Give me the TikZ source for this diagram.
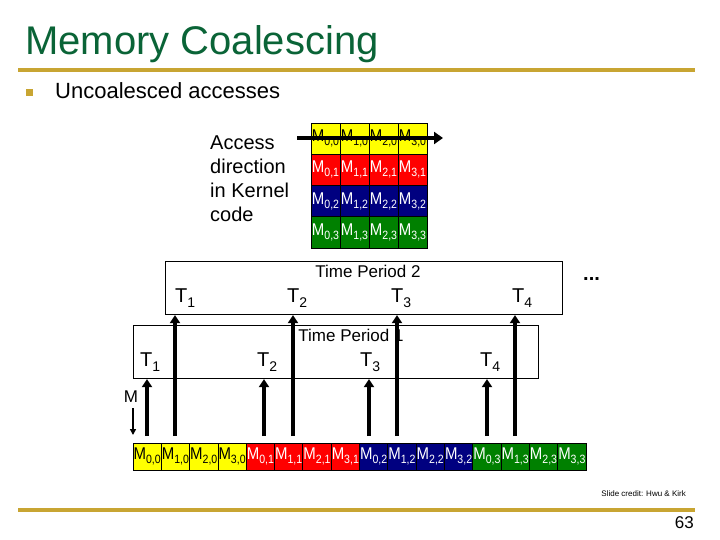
\documentclass[tikz,border=0pt]{standalone}
\usepackage{fontspec}
\setmainfont{Liberation Sans}
\usetikzlibrary{arrows.meta}
\definecolor{titlegreen}{RGB}{10,100,55}
\definecolor{gold}{RGB}{200,165,50}
\definecolor{cyel}{RGB}{255,255,0}
\definecolor{cred}{RGB}{255,0,0}
\definecolor{cblue}{RGB}{0,0,128}
\definecolor{cgreen}{RGB}{0,128,0}
\newcommand{\Msub}[2]{\scalebox{0.88}[1]{M\raisebox{-4pt}{\fontsize{12}{12}\selectfont #1,#2}}}
\newcommand{\Tsub}[1]{T\raisebox{-5pt}{\fontsize{14}{14}\selectfont #1}}
\tikzset{
  cell/.style={draw=black, line width=0.8pt, inner sep=0pt, font=\fontsize{17}{17}\selectfont},
  tbox/.style={draw=black, line width=1.1pt, inner sep=0pt, anchor=north west},
  tlab/.style={anchor=base west, inner sep=0pt, font=\fontsize{20}{20}\selectfont},
  plab/.style={anchor=base, inner sep=0pt, font=\fontsize{17}{17}\selectfont},
  thickarr/.style={line width=4pt, -{Triangle[width=10pt,length=8pt]}},
  goldline/.style={gold, line width=3.5pt},
}
\begin{document}
\begin{tikzpicture}[x=1pt,y=-1pt]
\useasboundingbox[fill=white] (0,0) rectangle (720,540);
% header
\node[anchor=base west, inner sep=0pt, text=titlegreen, font=\fontsize{40}{40}\selectfont] (title) at (25,55) {Memory Coalescing};
\draw[goldline] (18,70) -- (695,70);
\fill[gold] (26,89) rectangle (33,96);
\node[anchor=base west, inner sep=0pt, font=\fontsize{22}{22}\selectfont] (bul) at (55,99) {Uncoalesced accesses};
% access direction text
\node[tlab] (ad1) at (210,150) {Access};
\node[tlab] (ad2) at (210,174) {direction};
\node[tlab] (ad3) at (210,198) {in Kernel};
\node[tlab] (ad4) at (210,222) {code};
% top grid
\foreach \r/\fc/\tc in {0/cyel/black,1/cred/white,2/cblue/white,3/cgreen/white}{
  \foreach \c in {0,...,3}{
    \node[cell, fill=\fc, text=\tc, minimum width=29pt, minimum height=31.25pt]
      (g\c\r) at ({311+29*\c+14.5},{123+31.25*\r+15.6}) {\Msub{\c}{\r}};
  }
}
\coordinate (adS) at (297,138);
\coordinate (adE) at (443,138);
\draw[line width=4pt, -{Triangle[width=12pt,length=9pt]}] (adS) -- (adE);
% time period boxes
\node[tbox, minimum width=397pt, minimum height=53pt] (tp2) at (165,261) {};
\node[tbox, fill=white, minimum width=405pt, minimum height=53pt] (tp1) at (133,325) {};
\node[plab] (tp2l) at (368,277) {Time Period 2};
\node[plab] (tp1l) at (351,341) {Time Period 1};
\node[tlab] (t21) at (175,302) {\Tsub{1}};
\node[tlab] (t22) at (287,302) {\Tsub{2}};
\node[tlab] (t23) at (391,302) {\Tsub{3}};
\node[tlab] (t24) at (512,302) {\Tsub{4}};
\node[tlab] (t11) at (140,366) {\Tsub{1}};
\node[tlab] (t12) at (257,366) {\Tsub{2}};
\node[tlab] (t13) at (360,366) {\Tsub{3}};
\node[tlab] (t14) at (480,366) {\Tsub{4}};
\node[tlab, font=\fontsize{20}{20}\selectfont\bfseries] (dots) at (583,280) {...};
% memory row
\foreach \r/\fc/\tc in {0/cyel/black,1/cred/white,2/cblue/white,3/cgreen/white}{
  \foreach \c in {0,...,3}{
    \node[cell, fill=\fc, text=\tc, minimum width=28.31pt, minimum height=27pt]
      (b\c\r) at ({133+28.3125*(4*\r+\c)+14.16},456.5) {\Msub{\c}{\r}};
  }
}
% M label
\node[inner sep=0pt, font=\fontsize{17}{17}\selectfont] (mlab) at (131,397) {M};
\coordinate (mE) at (133,435);
\draw[line width=1.5pt, -{Triangle[width=6pt,length=6pt]}] (mlab.south) ++(2,5) coordinate (mS) -- (mE);
% access arrows
\foreach \n/\x in {a1/147,a2/264,a3/369,a4/487}{
  \coordinate (\n) at (\x,436);
  \draw[thickarr] (\n) -- (\n |- tp1.south);
}
\foreach \n/\x in {c1/175,c2/293,c3/397,c4/515}{
  \coordinate (\n) at (\x,436);
  \draw[thickarr] (\n) -- (\n |- tp2.south);
}
% footer
\node[anchor=base east, inner sep=0pt, font=\fontsize{8}{8}\selectfont] (credit) at (686,496) {Slide credit: Hwu \& Kirk};
\draw[goldline] (18,510) -- (695,510);
\node[anchor=base east, inner sep=0pt, font=\fontsize{17}{17}\selectfont] (pg) at (694,528) {63};
\end{tikzpicture}
\end{document}
